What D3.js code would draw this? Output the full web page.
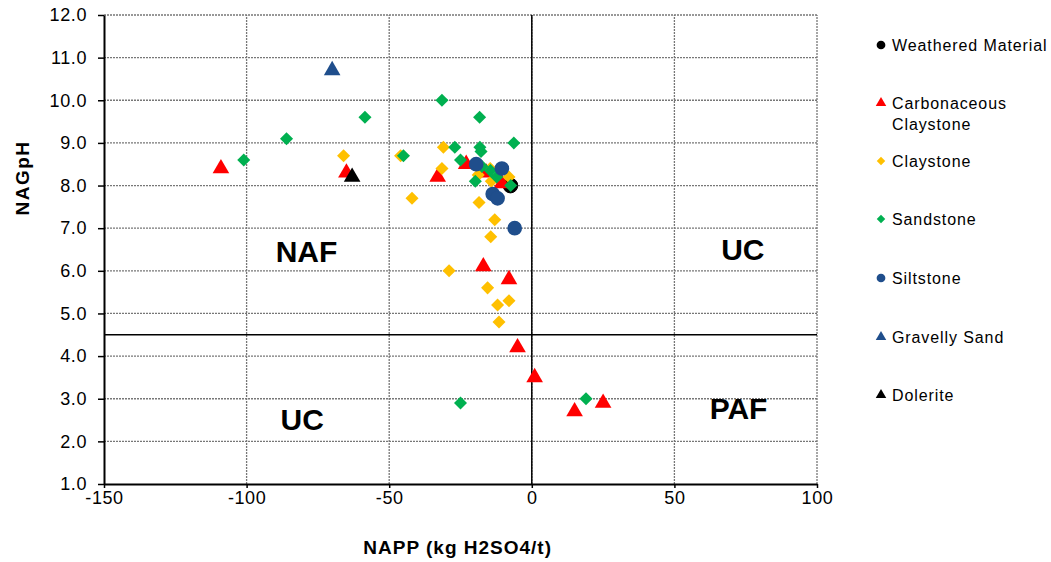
<!DOCTYPE html>
<html>
<head>
<meta charset="utf-8">
<script src="https://cdn.jsdelivr.net/npm/d3@7"></script>
<style>
  body { margin: 0; background: #fff; }
  text { font-family: "Liberation Sans", Arial, sans-serif; }
</style>
</head>
<body>
<div id="chart"></div>
<script>
// series data: [NAPP, NAGpH]
var weathered = [[-7.5, 8.0]];
var carbClaystone = [[-109, 8.4], [-65, 8.3], [-33, 8.2], [-23, 8.5], [-16, 8.3], [-10.5, 8.05],
  [-17, 6.1], [-8, 5.8], [-5, 4.2], [1, 3.5], [15, 2.7], [25, 2.9]];
var claystone = [[-66, 8.7], [-46, 8.7], [-42, 7.7], [-31, 8.9], [-31.5, 8.4], [-29, 6.0],
  [-18.5, 7.6], [-18.8, 8.25], [-14.6, 8.4], [-14.2, 8.1], [-8, 8.2], [-13, 7.2], [-14.4, 6.8],
  [-15.5, 5.6], [-12, 5.2], [-8, 5.3], [-11.5, 4.8]];
var sandstone = [[-101, 8.6], [-86, 9.1], [-58.5, 9.6], [-45, 8.7], [-31.5, 10.0], [-18.3, 9.6],
  [-27, 8.9], [-18.2, 8.9], [-17.8, 8.8], [-25, 8.6], [-19.8, 8.1], [-17.5, 8.45], [-14.5, 8.35],
  [-12.3, 8.2], [-6.3, 9.0], [-7.4, 8.0], [-25, 2.9], [19, 3.0]];
var siltstone = [[-19.5, 8.5], [-10.5, 8.4], [-13.7, 7.8], [-12, 7.7], [-6, 7.0]];
var gravellySand = [[-70, 10.7]];
var dolerite = [[-63, 8.2]];

var seriesNames = ["Weathered Material", "Carbonaceous\nClaystone", "Claystone", "Sandstone",
  "Siltstone", "Gravelly Sand", "Dolerite"];
var seriesData = [weathered, carbClaystone, claystone, sandstone, siltstone, gravellySand, dolerite];
var seriesColors = ["#000000", "#FF0000", "#FFC000", "#00B050", "#1F4E8C", "#1F4E8C", "#000000"];
var seriesShapes = ["circle", "triangle", "diamond", "diamond", "circle", "triangle", "triangle"];

var xTicks = [-150, -100, -50, 0, 50, 100];
var yTicks = [1, 2, 3, 4, 5, 6, 7, 8, 9, 10, 11, 12];

var zones = [
  {text: "NAF", x: -79, y: 6.4},
  {text: "UC", x: 74, y: 6.45},
  {text: "UC", x: -80.5, y: 2.45},
  {text: "PAF", x: 72.5, y: 2.7}
];

var width = 1051, height = 562;
var margin = {left: 104, right: 234, top: 15, bottom: 78};

var svg = d3.select("#chart").append("svg")
  .attr("width", width)
  .attr("height", height);

var x = d3.scaleLinear().domain([-150, 100]).range([margin.left, width - margin.right]);
var y = d3.scaleLinear().domain([1, 12]).range([height - margin.bottom, margin.top]);

// dotted gridlines
svg.append("g").selectAll("line")
  .data(yTicks.slice(1))
  .enter().append("line")
  .attr("x1", x(-150)).attr("x2", x(100))
  .attr("y1", d => y(d)).attr("y2", d => y(d))
  .style("stroke", "#777")
  .style("stroke-width", 1.3)
  .style("stroke-dasharray", "2,1");

svg.append("g").selectAll("line")
  .data(xTicks.slice(1))
  .enter().append("line")
  .attr("y1", y(1)).attr("y2", y(12))
  .attr("x1", d => x(d)).attr("x2", d => x(d))
  .style("stroke", "#777")
  .style("stroke-width", 1.3)
  .style("stroke-dasharray", "2,1");

// zone divider lines
svg.append("line")
  .attr("x1", x(0)).attr("x2", x(0))
  .attr("y1", y(1)).attr("y2", y(12))
  .style("stroke", "#000").style("stroke-width", 1.5);
svg.append("line")
  .attr("x1", x(-150)).attr("x2", x(100))
  .attr("y1", y(4.5)).attr("y2", y(4.5))
  .style("stroke", "#000").style("stroke-width", 1.5);

// axes
var xAxis = svg.append("g")
  .attr("transform", "translate(0," + y(1) + ")")
  .call(d3.axisBottom(x).tickValues(xTicks).tickSize(4).tickSizeOuter(0).tickFormat(d3.format("d")));
var yAxis = svg.append("g")
  .attr("transform", "translate(" + x(-150) + ",0)")
  .call(d3.axisLeft(y).tickValues(yTicks).tickSize(6).tickSizeOuter(0).tickFormat(d3.format(".1f")));

[xAxis, yAxis].forEach(function(a) {
  a.select(".domain").style("stroke", "#000").style("stroke-width", 2);
  a.selectAll(".tick line").style("stroke", "#000").style("stroke-width", 1.5);
  a.selectAll(".tick text")
    .style("font-size", "18px")
    .style("letter-spacing", "0.6px")
    .style("font-family", "'Liberation Sans', Arial, sans-serif")
    .attr("fill", "#000");
});
xAxis.selectAll(".tick text").attr("y", 3).attr("dy", "0.95em").text(function(d) { return d; });
yAxis.selectAll(".tick text").attr("x", -17);

// axis titles
svg.append("text")
  .attr("x", x(-26)).attr("y", 554)
  .attr("text-anchor", "middle")
  .style("font-size", "19px").style("font-weight", "bold")
  .style("letter-spacing", "1px")
  .text("NAPP (kg H2SO4/t)");
svg.append("text")
  .attr("transform", "translate(29,178) rotate(-90)")
  .attr("text-anchor", "middle")
  .style("font-size", "19px").style("font-weight", "bold")
  .style("letter-spacing", "1.5px")
  .text("NAGpH");

// zone labels
svg.append("g").selectAll("text")
  .data(zones)
  .enter().append("text")
  .attr("x", d => x(d.x)).attr("y", d => y(d.y))
  .attr("text-anchor", "middle")
  .attr("dominant-baseline", "middle")
  .style("font-size", "30px").style("font-weight", "bold")
  .text(d => d.text);

function symbolFor(shape, size) {
  var t = shape === "circle" ? d3.symbolCircle : shape === "triangle" ? d3.symbolTriangle : d3.symbolSquare;
  return d3.symbol().type(t).size(size);
}
var markerSize = {circle: 170, triangle: 120, diamond: 85};

// points
seriesData.forEach(function(data, i) {
  var shape = seriesShapes[i];
  svg.append("g").selectAll("path")
    .data(data)
    .enter().append("path")
    .attr("transform", d => "translate(" + x(d[0]) + "," + y(d[1]) + ")" + (shape === "diamond" ? " rotate(45)" : ""))
    .attr("d", symbolFor(shape, markerSize[shape]))
    .style("fill", seriesColors[i])
    .style("stroke", i === 0 ? "#000" : "none");
});

// legend
var legendY = [45, 103, 161, 219, 278, 337, 395];
var legend = svg.append("g");
seriesNames.forEach(function(name, i) {
  var shape = seriesShapes[i];
  legend.append("path")
    .attr("transform", "translate(881," + legendY[i] + ")" + (shape === "diamond" ? " rotate(45)" : ""))
    .attr("d", symbolFor(shape, shape === "circle" ? 60 : shape === "diamond" ? 36 : 48))
    .style("fill", seriesColors[i]);
  var t = legend.append("text")
    .attr("x", 892).attr("y", legendY[i] + 6)
    .style("font-size", "16px")
    .style("letter-spacing", "0.9px");
  name.split("\n").forEach(function(line, k) {
    t.append("tspan").attr("x", 892).attr("dy", k === 0 ? 0 : 21).text(line);
  });
});
</script>
</body>
</html>
